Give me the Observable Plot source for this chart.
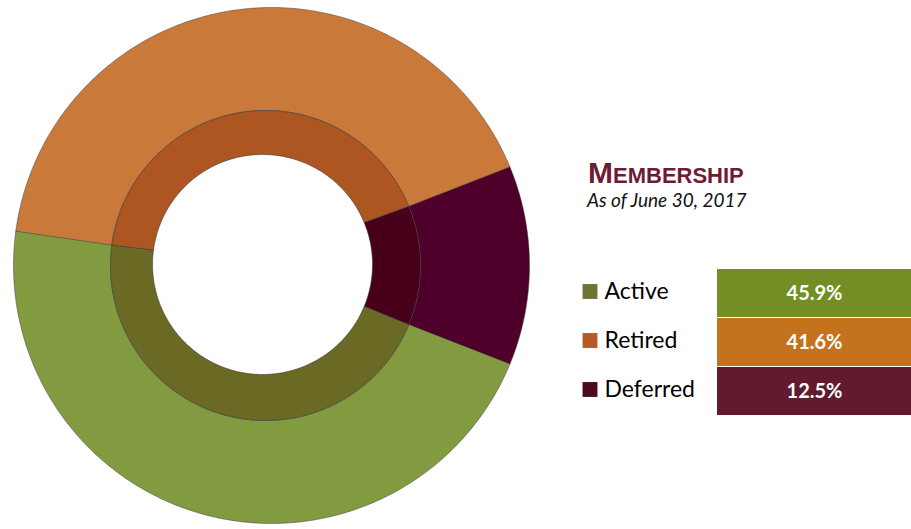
<!DOCTYPE html>
<html>
<head>
<meta charset="utf-8">
<script src="https://cdn.jsdelivr.net/npm/d3@7"></script>
<script src="https://cdn.jsdelivr.net/npm/@observablehq/plot@0.6"></script>
<style>
  html, body { margin: 0; padding: 0; background: #fff; }
  #wrap { position: relative; width: 911px; height: 529px; overflow: hidden; background: #fff; }
  #donut { position: absolute; left: 0; top: 0; }
  #legend { position: absolute; left: 580px; top: 262px; }
  #title { position: absolute; left: 588px; top: 158px; line-height: 30px; white-space: nowrap;
           font-family: "Liberation Sans", Arial, sans-serif; font-weight: bold; color: #6E1C33; }
  #title .big { font-size: 30px; }
  #title .small { font-size: 22px; }
  #subtitle { position: absolute; left: 587px; top: 190px; line-height: 19px; white-space: nowrap;
              font-family: Lato, sans-serif; font-style: italic; font-size: 19px; color: #111; }
  svg { display: block; }
</style>
</head>
<body>
<div id="wrap">
  <div id="donut"></div>
  <div id="title"></div>
  <div id="subtitle"></div>
  <div id="legend"></div>
</div>
<script>
// ---- data ----
const categories = ["Active", "Retired", "Deferred"];
const shares = [45.9, 41.6, 12.5];
const valueLabels = ["45.9%", "41.6%", "12.5%"];
const outerColors = ["#829B40", "#C97A3A", "#4E002A"];
const innerColors = ["#6A6A24", "#AE5622", "#48001A"];
const swatchColors = ["#6F7431", "#B8592A", "#4C0A22"];
const boxColors = ["#738E22", "#C4731C", "#621A2F"];
const pieOrder = ["Deferred", "Active", "Retired"]; // clockwise order in the ring
const titleFirst = "M";
const titleRest = "EMBERSHIP";
const subtitleText = "As of June 30, 2017";

const rows = categories.map((c, i) => ({
  category: c, share: shares[i], label: valueLabels[i],
  outer: outerColors[i], inner: innerColors[i], swatch: swatchColors[i], box: boxColors[i]
}));

// ---- donut geometry (layout) ----
const OUT = {cx: 271, cy: 265, r: 258};
const MID = {cx: 265, cy: 265, r: 155};
const HOLE = {cx: 262, cy: 264, r: 110};

const defShare = rows.find(r => r.category === "Deferred").share / 100;
const start = Math.PI / 2 - Math.PI * defShare; // centre the Deferred slice at 3 o'clock
const arcs = d3.pie().sort(null).value(d => d.share)
  .startAngle(start).endAngle(start + 2 * Math.PI)(pieOrder.map(c => rows.find(r => r.category === c)));

function pt(c, a) { return [c.cx + c.r * Math.sin(a), c.cy - c.r * Math.cos(a)]; }
function sector(a0, a1, outer, inner) {
  const n = Math.max(4, Math.ceil((a1 - a0) / 0.01));
  const pts = [];
  for (let k = 0; k <= n; k++) pts.push(pt(outer, a0 + (a1 - a0) * k / n));
  for (let k = n; k >= 0; k--) pts.push(pt(inner, a0 + (a1 - a0) * k / n));
  pts.push(pts[0]);
  return pts;
}
const outerRing = arcs.map(a => ({type: "Feature", properties: {fill: a.data.outer},
  geometry: {type: "Polygon", coordinates: [sector(a.startAngle, a.endAngle, OUT, MID)]}}));
const innerRing = arcs.map(a => ({type: "Feature", properties: {fill: a.data.inner},
  geometry: {type: "Polygon", coordinates: [sector(a.startAngle, a.endAngle, MID, HOLE)]}}));

const donut = Plot.plot({
  width: 540, height: 529, margin: 0,
  projection: {type: "identity"},
  color: {type: "identity"},
  marks: [
    Plot.geo(outerRing, {fill: d => d.properties.fill, stroke: "#3a3a3a", strokeWidth: 0.8, strokeOpacity: 0.6}),
    Plot.geo(innerRing, {fill: d => d.properties.fill, stroke: "#3a3a3a", strokeWidth: 0.9, strokeOpacity: 0.7})
  ]
});
document.getElementById("donut").append(donut);

// ---- legend ----
const legend = Plot.plot({
  width: 331, height: 160, margin: 0,
  x: {domain: ["value"], range: [137, 331], padding: 0, axis: null},
  y: {domain: categories, range: [7, 153], paddingInner: 0.03, paddingOuter: 0, axis: null},
  color: {type: "identity"},
  marks: [
    Plot.cell(rows, {x: () => "value", y: "category", fill: "box", inset: 0}),
    Plot.text(rows, {x: () => "value", y: "category", text: "label", fill: "white",
      fontWeight: "bold", fontSize: 20, fontFamily: "Lato, sans-serif"}),
    Plot.dot(rows, {y: "category", frameAnchor: "left", dx: 9.5, dy: -2, symbol: "square", r: 8.4, fill: "swatch", stroke: null}),
    Plot.text(rows, {y: "category", frameAnchor: "left", dx: 24, dy: -2, text: "category", textAnchor: "start",
      fontSize: 23, fontFamily: "Lato, sans-serif", fill: "#000"})
  ]
});
document.getElementById("legend").append(legend);

// ---- title ----
document.getElementById("title").innerHTML =
  `<span class="big">${titleFirst}</span><span class="small">${titleRest}</span>`;
document.getElementById("subtitle").textContent = subtitleText;
</script>
</body>
</html>
